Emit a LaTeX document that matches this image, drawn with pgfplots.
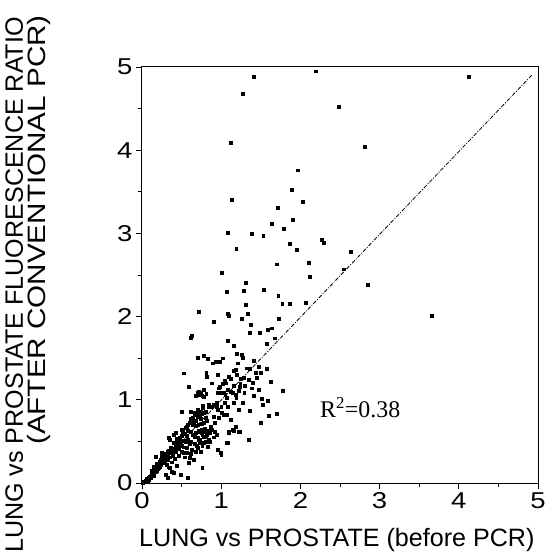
\documentclass[border=0pt]{standalone}
\usepackage{fontspec}
\setmainfont{Liberation Sans}
\newfontfamily\timesfont{Liberation Serif}
\newfontfamily\tickfont[FakeStretch=1.2]{Liberation Sans}
\newfontfamily\widefont[FakeStretch=1.18]{Liberation Sans}
\usepackage{pgfplots}
\pgfplotsset{compat=1.18}

\begin{document}
\begin{tikzpicture}
\begin{axis}[
  at={(0,0)}, anchor=south west,
  scale only axis, width=396bp, height=416bp,
  xmin=0, xmax=5, ymin=0, ymax=5,
  xtick={0,1,2,3,4,5}, ytick={0,1,2,3,4,5},
  minor tick num=1,
  tick pos=left, tick align=outside,
  major tick length=6bp, minor tick length=4bp,
  axis line style={line width=1bp},
  every tick/.style={black, line width=0.8bp},
  tick label style={font=\tickfont\fontsize{23}{23}\selectfont},
  /pgf/number format/assume math mode=true,
  clip=false,
  xlabel={LUNG vs PROSTATE (before PCR)},
  xlabel style={at={(axis description cs:-0.0076,-0.1538)}, anchor=base west,
    inner sep=0pt, font=\fontsize{25.2}{25.2}\selectfont},
  ylabel={LUNG vs PROSTATE FLUORESCENCE RATIO},
  ylabel style={at={(axis description cs:-0.3005,-0.1683)}, anchor=base west,
    inner sep=0pt, font=\fontsize{25.2}{25.2}\selectfont},
]
% 45 degree reference line
\addplot[black, line width=0.8bp, dash pattern=on 4bp off 1.5bp on 1bp off 1.5bp]
  coordinates {(0,0) (4.92,4.90)};

% upper, sparse part
\addplot[only marks, mark=square*, mark size=1.45bp, black] coordinates {
(1.405,4.88)(1.267,4.68)(2.197,4.95)(2.48,4.52)(4.13,4.88)(1.115,4.09)(2.815,4.04)
(1.966,3.76)(1.132,3.41)(1.886,3.53)(1.717,3.31)(2.03,3.38)(1.64,3.12)(1.90,3.17)
(1.79,3.06)(1.077,3.01)(1.38,3.00)(1.53,2.97)(2.27,2.92)(2.29,2.89)(1.87,2.88)
(1.19,2.82)(1.95,2.80)(2.63,2.78)(1.70,2.63)(2.10,2.65)(2.55,2.57)(2.12,2.48)
(2.85,2.38)(1.01,2.53)(1.31,2.41)(1.28,2.31)(1.07,2.30)(1.54,2.32)(1.72,2.25)
(1.77,2.16)(1.86,2.15)(2.07,2.17)(1.31,2.14)(0.715,2.06)(1.077,2.03)(1.09,2.01)
(1.34,2.04)(1.26,1.97)(1.73,1.98)(0.905,1.94)(3.66,2.01)(1.37,1.90)(1.64,1.86)
(1.59,1.84)(1.355,1.81)(1.49,1.81)(0.63,1.77)(0.615,1.75)(1.68,1.74)(1.08,1.71)
(1.58,1.67)(1.16,1.65)(1.20,1.55)(1.26,1.54)(1.27,1.51)(0.775,1.53)(0.70,1.51)
(0.825,1.49)(1.02,1.50)(0.935,1.46)(0.98,1.46)(0.89,1.44)(1.21,1.44)(1.41,1.47)
(1.355,1.37)(1.47,1.40)(1.57,1.37)(1.18,1.36)(1.16,1.35)(0.81,1.33)(0.525,1.32)
(1.28,1.27)(1.25,1.25)(1.43,1.33)(1.115,1.25)(1.04,1.23)(1.40,1.21)(1.02,1.19)
(1.16,1.17)(1.23,1.16)(1.30,1.17)(0.59,1.16)(0.775,1.12)(0.97,1.14)(1.08,1.12)
(1.22,1.11)(1.78,1.11)(0.96,1.09)(1.035,1.09)(1.15,1.08)(0.74,1.08)(0.81,1.07)
(0.68,1.05)(1.41,1.05)(0.775,1.04)(1.07,1.02)(1.19,1.03)(1.515,1.01)(1.59,0.99)
(0.91,0.94)(0.94,0.92)(1.16,0.97)(1.27,0.97)(1.52,0.94)(0.77,0.93)(0.84,0.92)
(1.08,0.92)(0.50,0.86)(1.01,0.85)(1.05,0.82)(1.36,0.865)(1.22,0.88)(1.60,0.81)
(1.70,0.83)(1.50,0.73)(1.18,0.68)(1.15,0.64)(1.24,0.62)(1.095,0.60)(1.08,0.48)
(1.35,0.52)(1.00,0.34)(0.76,0.18)
(0.70,1.08)(0.73,1.06)(0.76,1.05)(0.72,1.10)(0.98,1.16)(1.06,1.20)(1.12,1.26)
(1.20,1.30)(1.32,1.38)(0.99,1.08)(1.05,1.06)(1.12,1.10)(1.18,1.06)
(0.82,1.28)(0.96,1.30)(1.09,1.28)(1.45,1.27)(1.50,1.33)(1.62,1.22)
(1.24,1.20)(1.35,1.24)(1.38,1.14)(1.29,1.08)(1.47,1.12)(0.88,1.20)
};

% dense part near the origin
\addplot[only marks, mark=square*, mark size=1.45bp, black] coordinates {
(0.01,0.00)(0.02,0.02)(0.03,0.01)(0.04,0.03)(0.05,0.02)(0.06,0.05)(0.07,0.03)
(0.08,0.06)(0.09,0.04)(0.10,0.08)(0.11,0.06)(0.12,0.10)(0.12,0.15)(0.13,0.14)
(0.14,0.12)(0.15,0.09)(0.15,0.20)(0.16,0.17)(0.17,0.13)(0.17,0.32)(0.18,0.19)
(0.18,0.23)(0.19,0.15)(0.20,0.22)(0.20,0.17)(0.21,0.18)(0.22,0.26)(0.22,0.21)
(0.23,0.20)(0.24,0.28)(0.24,0.22)(0.25,0.32)(0.25,0.36)(0.26,0.24)(0.26,0.29)
(0.27,0.30)(0.28,0.35)(0.28,0.27)(0.29,0.26)(0.30,0.33)(0.30,0.29)(0.30,0.10)
(0.31,0.22)(0.32,0.38)(0.32,0.34)(0.33,0.28)(0.33,0.06)(0.34,0.19)(0.34,0.39)
(0.34,0.54)(0.35,0.31)(0.35,0.52)(0.35,0.18)(0.36,0.36)(0.36,0.43)(0.37,0.25)
(0.38,0.41)(0.38,0.36)(0.38,0.14)(0.39,0.33)(0.40,0.12)(0.40,0.48)(0.40,0.58)
(0.41,0.29)(0.42,0.45)(0.42,0.40)(0.42,0.60)(0.43,0.37)(0.44,0.21)(0.44,0.53)
(0.44,0.52)(0.45,0.50)(0.45,0.41)(0.46,0.33)(0.46,0.48)(0.47,0.42)(0.48,0.55)
(0.48,0.52)(0.48,0.46)(0.49,0.47)(0.49,0.10)(0.50,0.38)(0.50,0.57)(0.50,0.45)
(0.50,0.64)(0.51,0.60)(0.52,0.43)(0.52,0.64)(0.53,0.51)(0.53,0.36)(0.54,0.31)
(0.54,0.59)(0.55,0.66)(0.55,0.49)(0.56,0.36)(0.56,0.68)(0.57,0.57)(0.57,0.42)
(0.58,0.70)(0.58,0.63)(0.58,0.52)(0.58,0.06)(0.59,0.24)(0.60,0.47)(0.60,0.72)
(0.60,0.30)(0.61,0.74)(0.62,0.62)(0.62,0.77)(0.62,0.50)(0.62,0.35)(0.62,0.86)
(0.63,0.40)(0.64,0.78)(0.64,0.70)(0.64,0.58)(0.65,0.28)(0.65,0.74)(0.66,0.55)
(0.66,0.82)(0.66,0.47)(0.66,0.85)(0.67,0.84)(0.67,0.56)(0.68,0.69)(0.68,0.75)
(0.68,0.60)(0.68,0.38)(0.69,0.45)(0.70,0.87)(0.70,0.80)(0.70,0.55)(0.70,0.42)
(0.70,0.88)(0.71,0.62)(0.71,0.70)(0.72,0.52)(0.72,0.85)(0.72,0.63)(0.73,0.80)
(0.73,0.48)(0.73,0.52)(0.74,0.38)(0.74,0.77)(0.74,0.86)(0.75,0.71)(0.75,0.60)
(0.75,0.64)(0.76,0.58)(0.76,0.83)(0.76,0.45)(0.77,0.90)(0.78,0.48)(0.78,0.72)
(0.78,0.56)(0.78,0.84)(0.79,0.65)(0.80,0.86)(0.80,0.79)(0.80,0.62)(0.80,0.50)
(0.81,0.55)(0.82,0.75)(0.82,0.58)(0.83,0.44)(0.84,0.63)(0.84,0.52)(0.84,0.94)
(0.85,0.92)(0.86,0.50)(0.86,0.60)(0.87,0.68)(0.88,0.64)(0.88,0.92)(0.90,0.55)
(0.90,0.80)(0.92,0.62)(0.92,0.72)(0.94,0.58)(0.94,0.96)(0.96,0.88)(0.96,0.40)
(0.97,0.78)(1.00,0.92)(1.04,0.96)(1.07,0.82)(1.03,0.82)(1.12,0.76)(1.10,0.62)
(1.16,0.63)(1.22,0.62)(1.07,0.48)(0.99,0.36)
};

\node[anchor=base west, inner sep=0pt, font=\timesfont\fontsize{24}{24}\selectfont]
  at (axis cs:2.247,0.793) {R\textsuperscript{2}=0.38};
\node[rotate=90, anchor=base east, inner sep=0pt, font=\widefont\fontsize{25.2}{25.2}\selectfont]
  at (axis description cs:-0.2437,1.125) {(AFTER CONVENTIONAL PCR)};
\end{axis}
\pgfresetboundingbox
\path[use as bounding box] (-142bp,-75bp) rectangle (408bp,483bp);
\end{tikzpicture}
\end{document}
